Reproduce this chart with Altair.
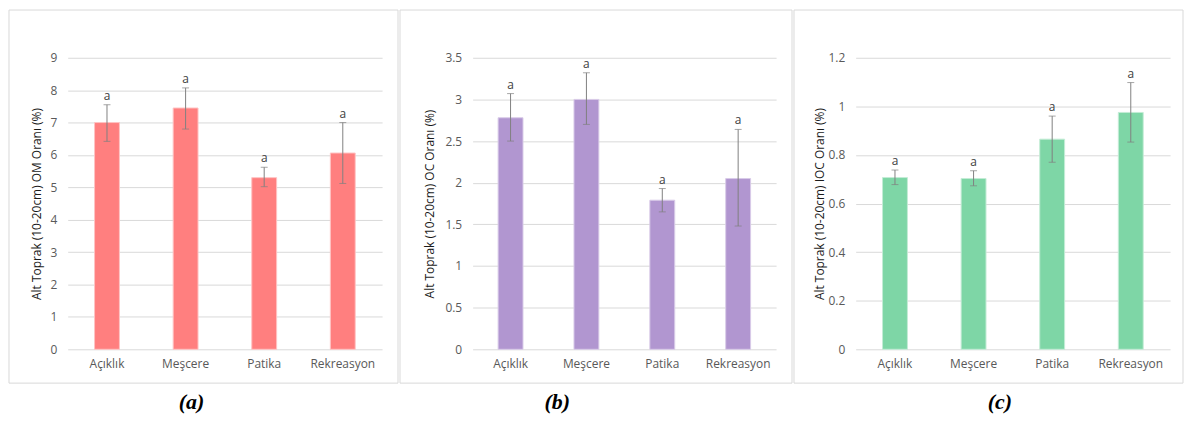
import altair as alt
import pandas as pd

categories = ["Açıklık", "Meşcere", "Patika", "Rekreasyon"]
letters = ["a", "a", "a", "a"]

om_mean = [7.00, 7.45, 5.30, 6.06]
om_low = [6.42, 6.80, 5.02, 5.12]
om_high = [7.55, 8.07, 5.62, 7.00]

oc_mean = [2.78, 3.00, 1.79, 2.05]
oc_low = [2.50, 2.70, 1.65, 1.48]
oc_high = [3.07, 3.32, 1.93, 2.64]

ioc_mean = [0.707, 0.703, 0.865, 0.975]
ioc_low = [0.678, 0.673, 0.770, 0.853]
ioc_high = [0.738, 0.735, 0.960, 1.098]

om_ticks = [0, 1, 2, 3, 4, 5, 6, 7, 8, 9]
oc_ticks = [0, 0.5, 1, 1.5, 2, 2.5, 3, 3.5]
ioc_ticks = [0, 0.2, 0.4, 0.6, 0.8, 1, 1.2]

titles = [
    "Alt Toprak (10-20cm) OM Oranı (%)",
    "Alt Toprak (10-20cm) OC Oranı (%)",
    "Alt Toprak (10-20cm) IOC Oranı (%)",
]
captions = ["(a)", "(b)", "(c)"]
colors = ["#FF7F7F", "#B196D0", "#7ED6A6"]
strokes = ["#FFC4C4", "#D9CBE8", "#C4ECD6"]

FONT = "Open Sans"
H = 293


def panel(mean, low, high, ticks, ymax, title, color, stroke, caption,
          W, title_x, fx, fx2, cap_x):
    df = pd.DataFrame({"cat": categories, "mean": mean, "low": low,
                       "high": high, "lab": letters})
    base = alt.Chart(df)
    xaxis = alt.Axis(title=None, labelAngle=0, ticks=False,
                     domain=False, labelPadding=9,
                     labelColor="#595959", labelFont=FONT,
                     labelFontSize=12)
    xscale = alt.Scale(paddingInner=0, paddingOuter=0)
    yaxis = alt.Axis(values=ticks, format="~g", grid=True,
                     gridColor="#d9d9d9", gridWidth=1, domain=False,
                     ticks=False, labelPadding=11, labelColor="#595959",
                     labelFont=FONT, labelFontSize=12, labelOverlap=False,
                     titleFont=FONT, titleFontSize=12,
                     titleFontWeight="normal", titleColor="#1a1a1a",
                     titleX=title_x, titleBaseline="middle")
    yscale = alt.Scale(domain=[0, ymax], nice=False, zero=True)

    def X():
        return alt.X("cat:N", sort=categories, scale=xscale, axis=xaxis)

    def Y(field):
        return alt.Y(field, scale=yscale, title=title, axis=yaxis)

    bars = base.mark_bar(size=25, color=color, stroke=stroke,
                         strokeWidth=1).encode(x=X(), y=Y("mean:Q"))
    rules = base.mark_rule(color="#808080", strokeWidth=1).encode(
        x=X(), y=Y("low:Q"), y2="high:Q")
    cap_lo = base.mark_tick(size=7, thickness=1, color="#808080").encode(
        x=X(), y=Y("low:Q"))
    cap_hi = base.mark_tick(size=7, thickness=1, color="#808080").encode(
        x=X(), y=Y("high:Q"))
    labels = base.mark_text(baseline="bottom", dy=-2, font=FONT,
                            fontSize=12, color="#404040").encode(
        x=X(), y=Y("high:Q"), text="lab:N")
    one = pd.DataFrame({"k": [0]})
    frame = alt.Chart(one).mark_rect(fill="white", fillOpacity=0,
                                     stroke="#d9d9d9", strokeWidth=1).encode(
        x=alt.value(fx), x2=alt.value(fx2),
        y=alt.value(-48), y2=alt.value(327),
    )
    cap = alt.Chart(one).mark_text(font="Liberation Serif", fontSize=22,
                                   fontWeight="bold", fontStyle="italic",
                                   color="#000000", baseline="middle").encode(
        x=alt.value(cap_x), y=alt.value(346), text=alt.value(caption),
    )
    return alt.layer(bars, rules, cap_lo, cap_hi, labels, frame, cap).properties(
        width=W, height=H)


pa = panel(om_mean, om_low, om_high, om_ticks, 9, titles[0], colors[0],
           strokes[0], captions[0], 316, -31, -59, 332, 124.5)
pb = panel(oc_mean, oc_low, oc_high, oc_ticks, 3.5, titles[1], colors[1],
           strokes[1], captions[1], 305, -43, -73, 321, 85)
pc = panel(ioc_mean, ioc_low, ioc_high, ioc_ticks, 1.2, titles[2], colors[2],
           strokes[2], captions[2], 316, -36, -62, 329, 145)

chart = alt.hconcat(pa, pb, pc, spacing=0).configure(
    padding=0, background="white"
).configure_view(stroke=None)

chart.save("out.html", embed_options={"renderer": "svg", "actions": False})
